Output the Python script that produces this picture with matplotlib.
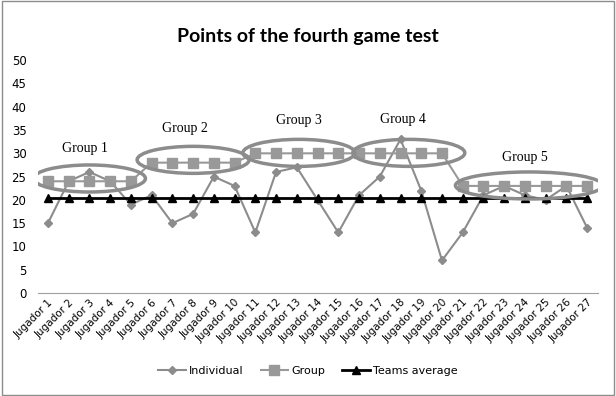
import numpy as np
import matplotlib.pyplot as plt
from matplotlib.patches import Ellipse, Rectangle

# Data
players = [f'Jugador {i}' for i in range(1, 28)]
individual = [15, 24, 26, 24, 19, 21, 15, 17, 25, 23, 13, 26, 27, 20, 13,
              21, 25, 33, 22, 7, 13, 21, 23, 21, 20, 23, 14]
group = [24, 24, 24, 24, 24, 28, 28, 28, 28, 28, 30, 30, 30, 30, 30,
         30, 30, 30, 30, 30, 23, 23, 23, 23, 23, 23, 23]
teams_average = [20.5] * 27

group_names = ['Group 1', 'Group 2', 'Group 3', 'Group 4', 'Group 5']
# (center x, center y, width, height) in data units, and label positions
ellipses = [(3.0, 24.6, 5.4, 5.8), (8.0, 28.6, 5.4, 5.8), (13.1, 30.1, 5.4, 5.8),
            (18.4, 30.1, 5.4, 5.8), (24.2, 23.1, 7.1, 5.8)]
label_pos = [(2.8, 31.1), (7.6, 35.4), (13.1, 37.1), (18.1, 37.3), (24.0, 29.2)]

fig = plt.figure(figsize=(6.16, 3.96), dpi=100)
ax = fig.add_axes([0.061, 0.260, 0.909, 0.588])

x = np.arange(1, len(players) + 1)
ax.plot(x, individual, color='#8c8c8c', marker='D', markersize=4.5, linewidth=1.5,
        label='Individual', zorder=3)
ax.plot(x, group, color='#999999', marker='s', markersize=7, linewidth=1.5,
        label='Group', zorder=4)
ax.plot(x, teams_average, color='black', marker='^', markersize=6, linewidth=2,
        label='Teams average', zorder=5)

for (cx, cy, w, h), name, (tx, ty) in zip(ellipses, group_names, label_pos):
    ax.add_patch(Ellipse((cx, cy), w, h, fill=False, edgecolor='#8c8c8c',
                         linewidth=2.5, zorder=6))
    ax.text(tx, ty, name, ha='center', va='center', fontsize=10,
            family='Liberation Serif')

ax.set_xlim(0.5, 27.5)
ax.set_ylim(0, 50)
ax.set_yticks(np.arange(0, 51, 5))
ax.set_xticks(x)
ax.set_xticklabels(players, rotation=45, ha='right', rotation_mode='anchor',
                   fontsize=7.5, family=['Liberation Sans Narrow', 'DejaVu Sans'])
ax.tick_params(axis='y', length=0, labelsize=8.5, pad=8)
ax.tick_params(axis='x', length=0, pad=3)
for s in ['top', 'right', 'left']:
    ax.spines[s].set_visible(False)
ax.spines['bottom'].set_color('#a0a0a0')

fig.text(0.5, 0.907, 'Points of the fourth game test', ha='center', va='center',
         fontsize=14, fontweight='bold', family='Lato')

fig.legend(loc='center', bbox_to_anchor=(0.5, 0.063), ncol=3, frameon=False,
           prop={'family': ['Liberation Sans Narrow', 'DejaVu Sans'], 'size': 8},
           handlelength=2.5, columnspacing=1.5, handletextpad=0.3)

fig.patches.append(Rectangle((0.003, 0.003), 0.994, 0.994, transform=fig.transFigure,
                             fill=False, edgecolor='#8c8c8c', linewidth=1))

fig.savefig('out.png', dpi=100)
